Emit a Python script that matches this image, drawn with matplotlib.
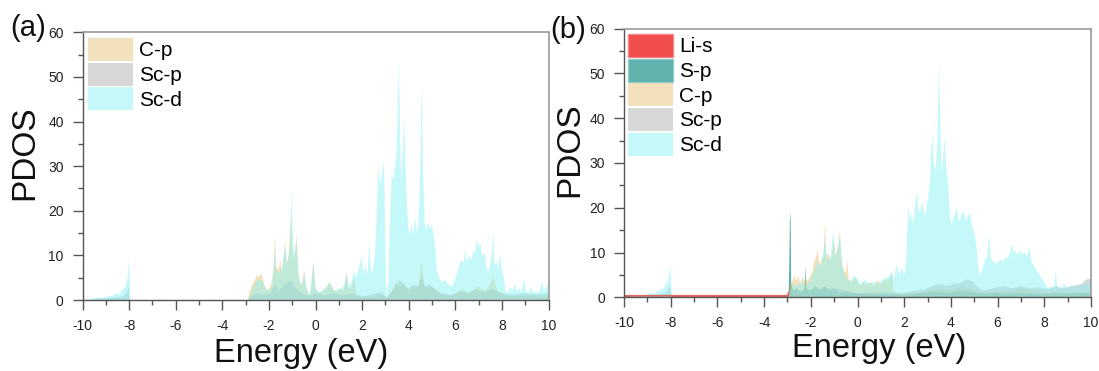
import numpy as np
import matplotlib
matplotlib.use("Agg")
import matplotlib.pyplot as plt
from matplotlib.patches import Patch

plt.rcParams['font.family'] = ['Liberation Sans', 'DejaVu Sans']

# ---------------- data: (energy eV, PDOS) pairs ----------------
# panel (a)
a_cp = [(-2.9, 0), (-2.85, 1.5), (-2.75, 3.0), (-2.6, 4.5), (-2.5, 5.8), (-2.45, 5.0), (-2.35, 6.0),
        (-2.28, 5.2), (-2.2, 3.5), (-2.1, 2.2), (-2.0, 2.5), (-1.9, 3.5), (-1.8, 7.0), (-1.74, 14.8),
        (-1.7, 8.0), (-1.6, 6.5), (-1.5, 9.0), (-1.42, 6.0), (-1.31, 13.4), (-1.25, 8.0), (-1.15, 10.0),
        (-1.05, 19.0), (-1.0, 12.0), (-0.95, 9.0), (-0.88, 11.0), (-0.81, 14.6), (-0.75, 7.0),
        (-0.65, 3.5), (-0.55, 4.0), (-0.49, 6.7), (-0.4, 3.0), (-0.3, 1.5), (-0.2, 1.2), (-0.09, 9.0),
        (0.0, 2.5), (0.15, 1.5), (0.3, 2.0), (0.45, 2.8), (0.62, 4.1), (0.75, 2.5), (0.9, 1.8),
        (1.05, 2.5), (1.2, 2.0), (1.34, 6.4), (1.42, 2.5), (1.55, 3.0), (1.65, 5.5), (1.75, 1.0),
        (1.9, 0.7), (2.2, 0.8), (2.6, 0.5), (2.9, 1.2), (3.1, 0.5), (3.3, 2.0), (3.45, 4.0), (3.6, 3.0),
        (3.8, 3.5), (4.0, 2.0), (4.2, 3.0), (4.4, 2.5), (4.56, 8.5), (4.7, 2.5), (5.0, 3.0), (5.3, 1.5),
        (5.7, 1.0), (6.0, 1.5), (6.3, 2.5), (6.6, 1.5), (7.0, 3.0), (7.3, 2.0), (7.5, 3.5), (7.63, 5.5),
        (7.8, 2.0), (8.1, 1.0), (8.5, 0.8), (9.0, 1.0), (9.5, 0.7), (10.0, 0.8)]

a_scp = [(-9.6, 0), (-9.3, 0.3), (-9.0, 0.4), (-8.6, 0.5), (-8.3, 0.8), (-8.1, 1.5), (-8.02, 3.0),
         (-7.97, 0.5), (-7.95, 0), (-2.9, 0), (-2.8, 0.8), (-2.5, 1.5), (-2.2, 1.0), (-1.9, 1.5),
         (-1.74, 4.0), (-1.6, 2.0), (-1.3, 3.5), (-1.05, 4.5), (-0.9, 3.0), (-0.6, 1.5), (-0.3, 1.0),
         (0.0, 1.5), (0.4, 1.0), (0.8, 1.5), (1.2, 1.0), (1.6, 1.5), (2.0, 0.8), (2.4, 1.2), (2.8, 1.8),
         (3.05, 0.5), (3.2, 1.5), (3.4, 3.0), (3.6, 4.5), (3.8, 3.5), (4.0, 2.5), (4.2, 3.5), (4.4, 3.0),
         (4.56, 5.0), (4.7, 3.0), (4.9, 3.5), (5.1, 2.5), (5.4, 1.5), (5.8, 1.0), (6.2, 2.0), (6.5, 1.5),
         (6.9, 2.5), (7.2, 1.8), (7.6, 2.5), (8.0, 1.5), (8.4, 1.2), (9.0, 1.5), (9.5, 1.2), (10.0, 1.5)]

a_scd = [(-10.0, 0), (-9.8, 0.1), (-9.5, 0.4), (-9.35, 0.6), (-9.2, 0.3), (-9.0, 0.7), (-8.85, 0.9),
         (-8.7, 1.0), (-8.55, 1.5), (-8.45, 1.2), (-8.35, 1.8), (-8.25, 2.4), (-8.15, 3.0), (-8.07, 5.0),
         (-8.0, 9.3), (-7.97, 4.0), (-7.95, 0), (-2.9, 0), (-2.8, 1.0), (-2.65, 3.0), (-2.5, 4.5),
         (-2.35, 4.5), (-2.25, 4.0), (-2.15, 2.5), (-2.0, 2.0), (-1.85, 3.0), (-1.75, 12.0), (-1.7, 7.0),
         (-1.55, 6.0), (-1.45, 7.0), (-1.31, 12.0), (-1.2, 8.0), (-1.1, 12.0), (-1.02, 24.8),
         (-0.98, 15.0), (-0.9, 10.0), (-0.81, 13.5), (-0.72, 5.0), (-0.6, 3.0), (-0.49, 6.0),
         (-0.38, 2.5), (-0.25, 1.2), (-0.09, 8.5), (0.0, 2.5), (0.2, 1.8), (0.4, 2.5), (0.62, 3.8),
         (0.8, 2.0), (1.0, 2.5), (1.2, 3.0), (1.34, 6.0), (1.42, 3.0), (1.55, 4.0), (1.65, 6.5),
         (1.75, 5.0), (1.85, 7.0), (1.98, 9.7), (2.05, 6.0), (2.15, 7.5), (2.23, 5.5), (2.31, 13.2),
         (2.38, 7.0), (2.45, 6.0), (2.55, 10.0), (2.62, 18.0), (2.7, 29.9), (2.78, 26.0), (2.85, 28.0),
         (2.94, 31.4), (2.99, 15.0), (3.03, 3.0), (3.06, 0.7), (3.12, 4.0), (3.18, 15.0), (3.27, 28.5),
         (3.35, 27.0), (3.41, 30.0), (3.48, 33.0), (3.54, 45.0), (3.58, 54.0), (3.63, 38.0),
         (3.68, 26.0), (3.74, 33.0), (3.81, 41.3), (3.86, 30.0), (3.91, 23.0), (3.98, 16.0),
         (4.05, 15.0), (4.12, 17.0), (4.2, 14.5), (4.27, 18.7), (4.35, 15.0), (4.42, 17.0),
         (4.49, 28.0), (4.56, 48.9), (4.61, 30.0), (4.68, 17.0), (4.76, 15.5), (4.84, 17.5),
         (4.92, 16.0), (5.0, 17.0), (5.08, 14.0), (5.15, 11.0), (5.2, 7.0), (5.3, 5.0), (5.42, 4.0),
         (5.55, 4.5), (5.7, 3.5), (5.85, 3.0), (5.98, 4.5), (6.08, 6.0), (6.18, 8.0), (6.28, 9.0),
         (6.35, 8.0), (6.42, 11.5), (6.5, 8.5), (6.6, 10.0), (6.7, 9.0), (6.8, 11.5), (6.86, 10.0),
         (6.92, 13.7), (7.0, 12.0), (7.08, 12.5), (7.15, 10.0), (7.27, 10.5), (7.35, 7.0), (7.45, 6.5),
         (7.55, 9.5), (7.63, 15.2), (7.68, 8.0), (7.78, 8.5), (7.85, 7.0), (7.92, 10.5), (8.0, 7.0),
         (8.08, 5.0), (8.16, 2.0), (8.25, 1.5), (8.35, 3.0), (8.45, 2.0), (8.55, 3.5), (8.65, 2.0),
         (8.75, 2.5), (8.85, 1.8), (8.95, 4.9), (9.02, 2.0), (9.15, 1.5), (9.25, 3.0), (9.35, 1.5),
         (9.45, 2.0), (9.55, 1.5), (9.65, 2.5), (9.72, 4.0), (9.8, 2.0), (9.9, 2.8), (9.96, 4.0),
         (10.0, 3.0)]

# panel (b)
b_lis = [(-10.0, 0.35), (-3.0, 0.35), (-2.95, 1.0), (-2.9, 2.5), (-2.85, 1.0), (-2.7, 0.5), (-2.4, 0.3),
         (-2.0, 0.3), (-1.5, 0.2), (-1.0, 0.3), (0.0, 0.2), (1.0, 0.3), (2.0, 0.2), (3.0, 0.3),
         (4.0, 0.3), (5.0, 0.3), (6.0, 0.2), (7.0, 0.3), (8.0, 0.2), (9.0, 0.3), (10.0, 0.3)]

b_sp = [(-10.0, 0), (-2.95, 0), (-2.92, 8.0), (-2.89, 19.3), (-2.86, 17.0), (-2.84, 3.0), (-2.75, 1.5),
        (-2.6, 2.0), (-2.45, 1.2), (-2.3, 1.5), (-2.24, 4.0), (-2.22, 7.2), (-2.19, 2.0), (-2.0, 1.5),
        (-1.8, 2.5), (-1.6, 1.5), (-1.4, 2.5), (-1.2, 1.5), (-1.0, 2.0), (-0.8, 1.0), (-0.5, 1.2),
        (0.0, 0.8), (0.5, 0.6), (1.0, 0.8), (1.5, 0.6), (2.0, 0.5), (2.5, 0.8), (3.0, 1.0), (3.5, 1.2),
        (4.0, 1.0), (4.5, 1.5), (5.0, 1.0), (5.5, 0.8), (6.0, 1.0), (6.5, 0.8), (7.0, 1.0), (7.5, 0.8),
        (8.0, 0.7), (8.5, 1.0), (9.0, 0.8), (9.5, 1.0), (10.0, 0.9)]

b_cp = [(-2.95, 0), (-2.9, 2.5), (-2.8, 3.5), (-2.7, 5.0), (-2.62, 3.5), (-2.55, 5.0), (-2.45, 3.0),
        (-2.35, 4.5), (-2.25, 3.5), (-2.1, 4.0), (-1.95, 5.5), (-1.85, 8.0), (-1.78, 9.0), (-1.7, 10.6),
        (-1.64, 7.0), (-1.55, 8.5), (-1.45, 9.0), (-1.39, 16.9), (-1.34, 9.0), (-1.25, 10.0),
        (-1.15, 8.0), (-1.06, 11.0), (-1.01, 13.9), (-0.95, 9.0), (-0.88, 10.5), (-0.8, 12.0),
        (-0.75, 15.3), (-0.7, 9.0), (-0.6, 6.0), (-0.5, 5.5), (-0.44, 8.3), (-0.38, 4.0), (-0.25, 3.5),
        (-0.11, 4.5), (0.0, 3.5), (0.1, 2.5), (0.25, 3.5), (0.4, 2.8), (0.55, 3.5), (0.7, 2.5),
        (0.85, 3.8), (1.0, 3.0), (1.15, 4.0), (1.3, 3.5), (1.42, 4.5), (1.49, 6.1), (1.53, 1.5),
        (1.7, 1.0), (2.0, 0.8), (2.5, 1.0), (3.0, 1.5), (3.5, 2.0), (4.0, 1.5), (4.5, 2.5), (5.0, 1.5),
        (5.5, 1.0), (6.0, 1.5), (6.5, 1.2), (7.0, 2.0), (7.5, 1.5), (8.0, 1.0), (8.5, 1.2), (9.0, 1.0),
        (9.5, 1.2), (10.0, 1.0)]

b_scp = [(-9.6, 0), (-9.0, 0.3), (-8.5, 0.6), (-8.2, 1.0), (-8.03, 2.5), (-7.97, 0.5), (-7.95, 0),
         (-2.95, 0), (-2.85, 1.0), (-2.5, 1.5), (-2.0, 1.5), (-1.5, 2.0), (-1.0, 2.0), (-0.5, 1.5),
         (0.0, 1.0), (0.5, 1.0), (1.0, 1.2), (1.5, 1.0), (2.0, 1.0), (2.5, 1.5), (2.9, 1.8), (3.2, 2.5),
         (3.5, 3.0), (3.8, 2.5), (4.1, 3.0), (4.4, 3.2), (4.7, 4.0), (4.9, 3.5), (5.1, 2.5), (5.4, 1.5),
         (5.8, 2.0), (6.2, 2.5), (6.6, 2.0), (7.0, 2.5), (7.4, 2.0), (7.8, 2.2), (8.2, 1.8), (8.5, 2.5),
         (8.8, 2.0), (9.2, 2.5), (9.6, 3.0), (9.8, 4.0), (10.0, 4.2)]

b_scd = [(-10.0, 0), (-9.7, 0.2), (-9.4, 0.4), (-9.1, 0.5), (-8.9, 1.0), (-8.75, 0.8), (-8.6, 1.2),
         (-8.45, 1.5), (-8.3, 2.0), (-8.2, 2.8), (-8.1, 4.0), (-8.03, 7.1), (-7.98, 3.0), (-7.95, 0),
         (-2.95, 0), (-2.88, 1.5), (-2.75, 3.0), (-2.6, 2.5), (-2.4, 3.5), (-2.2, 2.5), (-2.0, 4.0),
         (-1.85, 6.0), (-1.7, 8.0), (-1.55, 7.0), (-1.4, 13.0), (-1.3, 8.0), (-1.15, 9.0), (-1.05, 14.5),
         (-0.95, 9.0), (-0.85, 11.0), (-0.75, 14.0), (-0.65, 7.0), (-0.5, 4.5), (-0.35, 3.5),
         (-0.11, 4.8), (0.0, 4.0), (0.15, 3.0), (0.3, 4.0), (0.5, 3.0), (0.7, 3.5), (0.9, 3.0),
         (1.1, 4.0), (1.3, 4.5), (1.45, 5.5), (1.55, 4.0), (1.68, 7.6), (1.78, 5.0), (1.9, 6.5),
         (2.0, 5.0), (2.08, 8.0), (2.13, 15.0), (2.18, 20.3), (2.25, 17.0), (2.32, 19.0), (2.4, 16.0),
         (2.47, 21.0), (2.54, 23.5), (2.6, 20.0), (2.68, 19.0), (2.75, 21.0), (2.82, 20.0), (2.9, 18.0),
         (2.97, 21.0), (3.03, 22.0), (3.1, 26.0), (3.2, 36.7), (3.27, 30.0), (3.35, 28.0), (3.42, 35.0),
         (3.49, 52.3), (3.55, 38.0), (3.6, 28.0), (3.66, 31.0), (3.72, 35.9), (3.8, 29.0), (3.89, 24.7),
         (3.96, 18.0), (4.03, 16.0), (4.12, 18.0), (4.25, 19.9), (4.35, 17.0), (4.45, 18.5),
         (4.53, 19.5), (4.62, 17.0), (4.72, 18.0), (4.82, 19.0), (4.9, 16.0), (4.97, 15.0), (5.03, 14.0),
         (5.1, 11.0), (5.17, 7.0), (5.25, 4.6), (5.32, 6.0), (5.4, 7.0), (5.46, 8.5), (5.55, 9.0),
         (5.64, 14.2), (5.7, 9.0), (5.8, 8.0), (5.95, 7.5), (6.1, 8.5), (6.25, 8.0), (6.35, 9.0),
         (6.45, 8.5), (6.52, 10.0), (6.6, 12.0), (6.68, 10.0), (6.76, 10.5), (6.85, 9.5), (6.95, 10.5),
         (7.05, 9.5), (7.15, 10.0), (7.25, 9.0), (7.36, 11.3), (7.45, 8.0), (7.55, 7.0), (7.67, 6.0),
         (7.8, 5.0), (7.92, 4.0), (8.03, 3.0), (8.15, 2.0), (8.3, 2.5), (8.42, 2.0), (8.49, 6.2),
         (8.55, 2.5), (8.7, 2.0), (8.85, 3.0), (9.0, 2.0), (9.15, 2.8), (9.3, 2.2), (9.45, 2.8),
         (9.6, 2.5), (9.75, 3.0), (9.9, 3.2), (10.0, 3.5)]

labels_a = ["C-p", "Sc-p", "Sc-d"]
labels_b = ["Li-s", "S-p", "C-p", "Sc-p", "Sc-d"]
x_ticks = [-10, -8, -6, -4, -2, 0, 2, 4, 6, 8, 10]
y_ticks = [0, 10, 20, 30, 40, 50, 60]

# ---------------- styles ----------------
style = {
    "Li-s": dict(fc="#ef2e2e", alpha=0.85, ec="#f58080"),
    "S-p": dict(fc="#3a9e98", alpha=0.8, ec="#86cbc7"),
    "C-p": dict(fc="#e9c27a", alpha=0.5, ec="none"),
    "Sc-p": dict(fc="#b0b0b0", alpha=0.5, ec="none"),
    "Sc-d": dict(fc="#8cf4f4", alpha=0.5, ec="none"),
}

W, H = 1099, 371
fig = plt.figure(figsize=(W / 100, H / 100), dpi=100)
ax_a = fig.add_axes([82.5 / W, 1 - 300 / H, 466 / W, 267.7 / H])
ax_b = fig.add_axes([624 / W, 1 - 297.3 / H, 467 / W, 268.6 / H])


def draw(ax, series, labels):
    for lab, data in zip(labels, series):
        arr = np.array(data, dtype=float)
        st = style[lab]
        ax.fill_between(arr[:, 0], 0, arr[:, 1], facecolor=st["fc"], alpha=st["alpha"],
                        linewidth=0, zorder=2)
        if lab == "Li-s":
            m = arr[:, 0] <= -2.95
            ax.plot(arr[m, 0], arr[m, 1], color="#e06a5e", lw=1.2, zorder=2.5)


def dress(ax, labels, legend_xy):
    ax.set_xlim(-10, 10)
    ax.set_ylim(0, 60)
    ax.set_xticks(x_ticks)
    ax.set_xticks(np.arange(-9, 10, 2), minor=True)
    ax.set_yticks(y_ticks)
    ax.set_yticks(np.arange(5, 60, 10), minor=True)
    ax.set_xticklabels([str(t) for t in x_ticks])
    ax.set_yticklabels([str(t) for t in y_ticks])
    ax.tick_params(which="major", direction="out", length=7.5, width=1.0, color="#555555",
                   labelsize=10, labelcolor="#222222", pad=6)
    ax.tick_params(which="minor", direction="out", length=3.5, width=1.0, color="#555555")
    for s in ("left", "bottom"):
        ax.spines[s].set_color("#555555")
        ax.spines[s].set_linewidth(1.0)
    for s in ("top", "right"):
        ax.spines[s].set_color("#9a9a9a")
        ax.spines[s].set_linewidth(1.2)
    handles = [Patch(facecolor=style[l]["fc"], alpha=style[l]["alpha"], edgecolor=style[l]["ec"],
                     linewidth=1.0) for l in labels]
    ax.legend(handles, labels, loc="upper left", bbox_to_anchor=legend_xy, frameon=False,
              fontsize=15, handlelength=2.15, handleheight=1.32, handletextpad=0.3,
              labelspacing=0.08, borderpad=0, borderaxespad=0)


draw(ax_a, [a_cp, a_scp, a_scd], labels_a)
draw(ax_b, [b_lis, b_sp, b_cp, b_scp, b_scd], labels_b)
dress(ax_a, labels_a, ((88.3 - 82.5) / 466, (300 - 38) / 267.7))
dress(ax_b, labels_b, ((628 - 624) / 467, (297.3 - 34) / 268.6))

for ax, xc, yb, yc in ((ax_a, 0.470, -0.230, -0.123), (ax_b, 0.546, -0.223, -0.116)):
    ax.text(xc, yb, "Energy (eV)", transform=ax.transAxes, ha="center", va="baseline",
            fontsize=23.5, color="#111111")
    ax.text(yc, 0.55, "PDOS", transform=ax.transAxes, ha="center", va="center", rotation=90,
            fontsize=24, color="#111111")

fig.text(10 / W, 1 - 36 / H, "(a)", fontsize=21, ha="left", va="baseline", color="#111111")
fig.text(550 / W, 1 - 38 / H, "(b)", fontsize=21, ha="left", va="baseline", color="#111111")

fig.savefig("out.png", dpi=100)
